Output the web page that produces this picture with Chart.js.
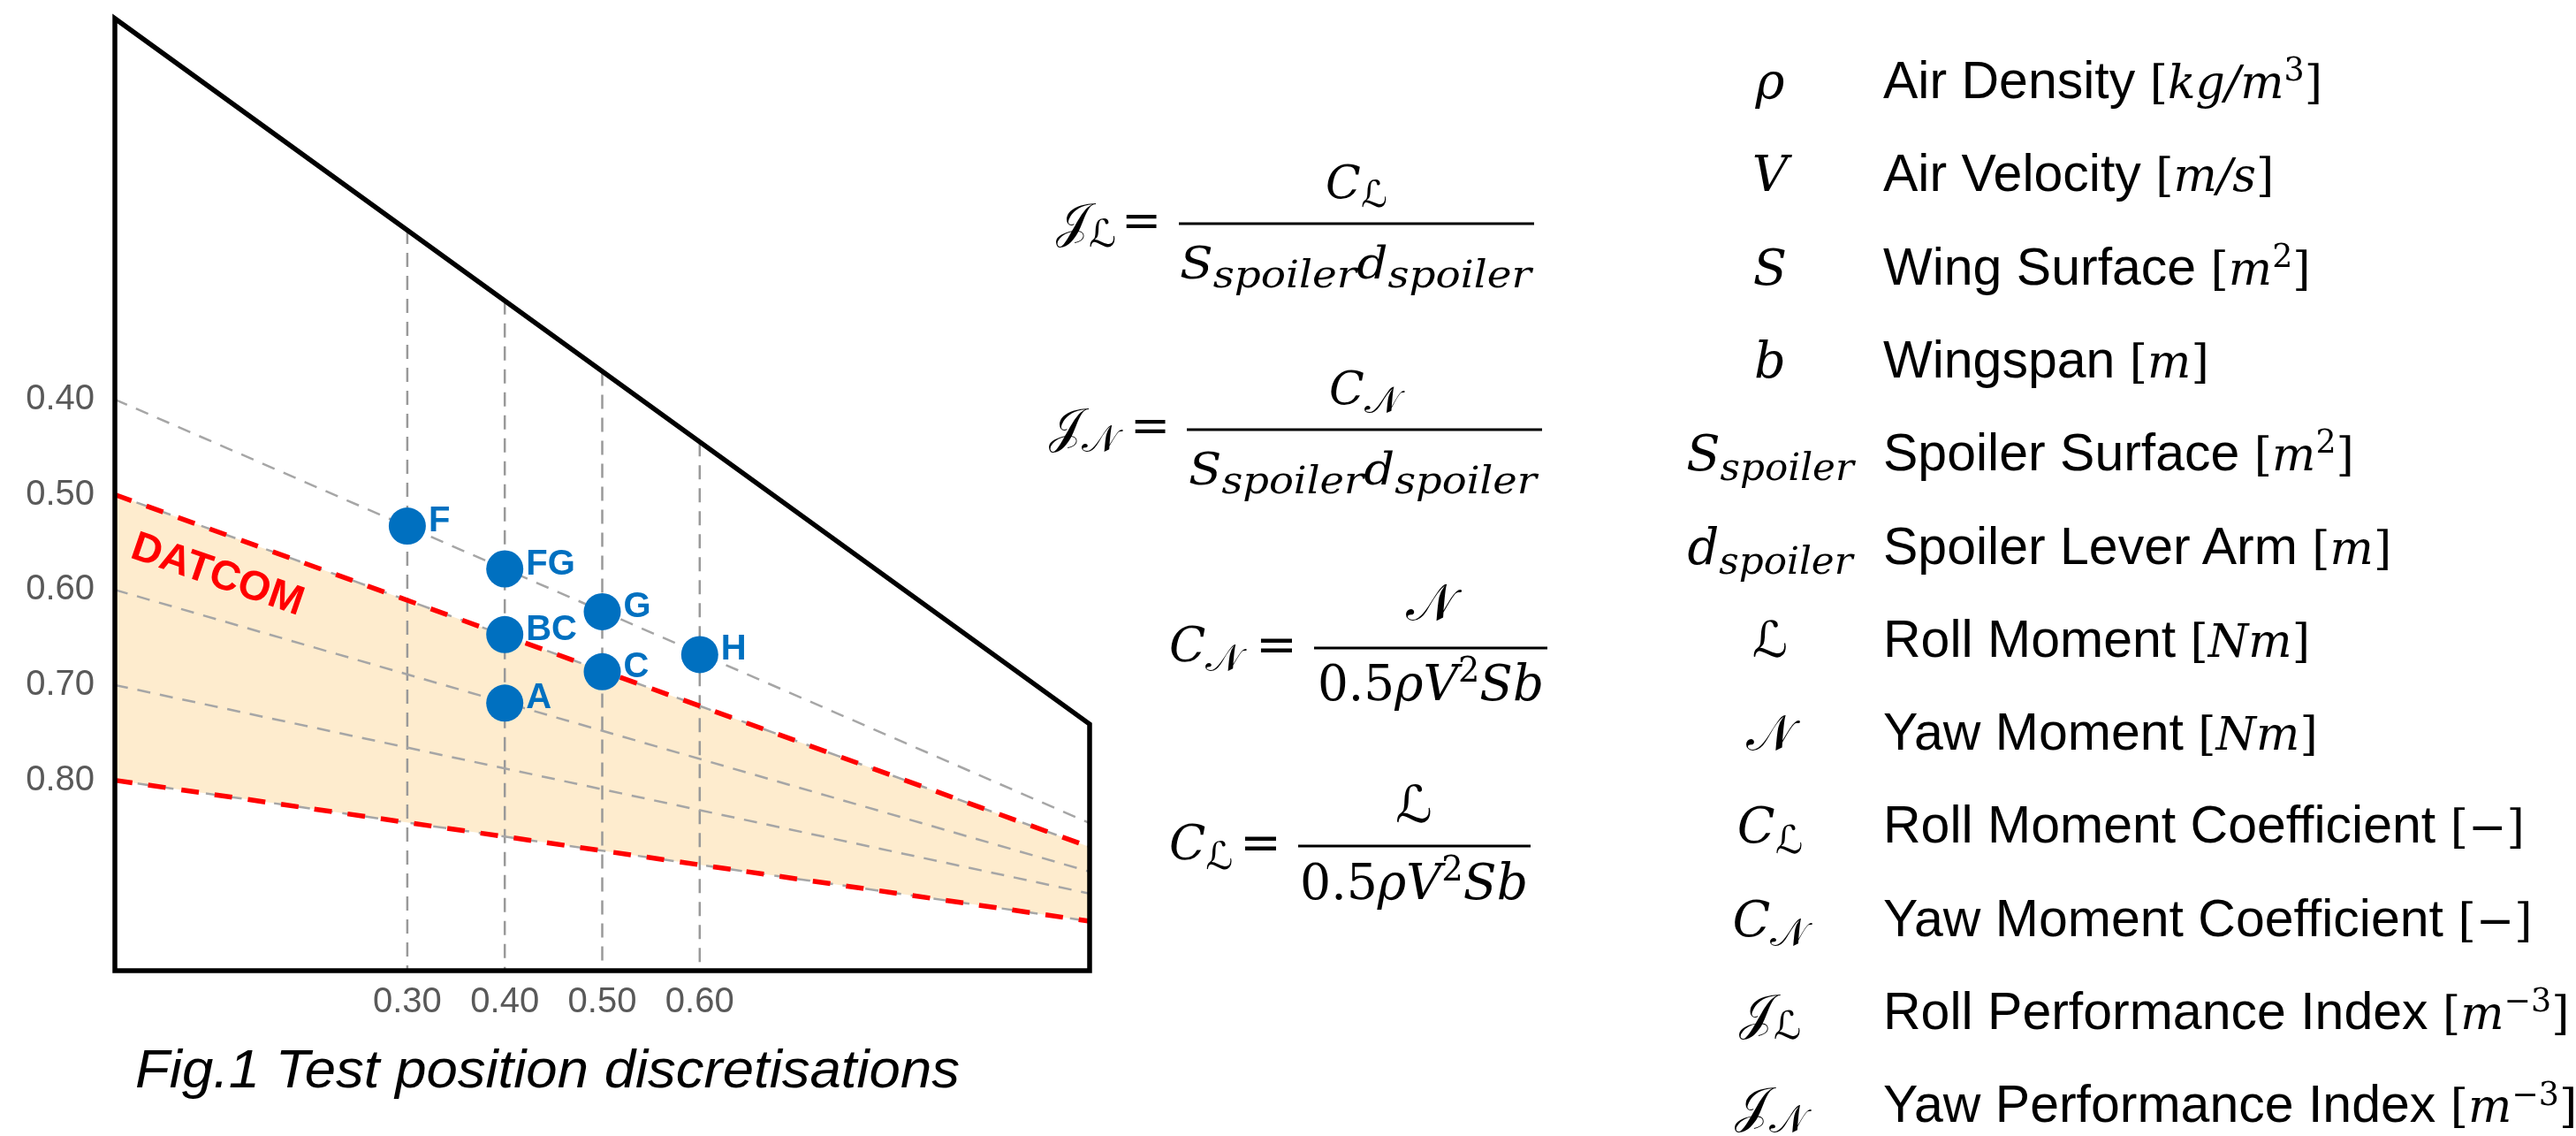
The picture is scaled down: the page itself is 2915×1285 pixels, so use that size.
<!DOCTYPE html>
<html><head><meta charset="utf-8">
<script src="https://cdn.jsdelivr.net/npm/chart.js@4.4.1/dist/chart.umd.min.js"></script>
<style>
html,body{margin:0;padding:0;background:#fff;width:2915px;height:1285px;overflow:hidden;}
#wrap{position:absolute;left:0;top:0;width:1300px;height:1180px;}
#ov{position:absolute;left:0;top:0;}
</style></head><body>
<div id="wrap"><canvas id="c" width="1300" height="1180"></canvas></div>
<svg id="ov" width="2915" height="1285" xmlns="http://www.w3.org/2000/svg"></svg>
<script>
// ---- data ----
const xTicks = [0.30, 0.40, 0.50, 0.60];
const yTicks = [0.40, 0.50, 0.60, 0.70, 0.80];
const pointNames = ['F', 'FG', 'BC', 'A', 'G', 'C', 'H'];
const pointX = [0.30, 0.40, 0.40, 0.40, 0.50, 0.50, 0.60];
const pointY = [0.533, 0.578, 0.647, 0.719, 0.623, 0.686, 0.668];
const outlineX = [0, 0, 1, 1, 0];
const outlineY = [1, 0, 0.741, 1, 1];
const chordRootY = [0.40, 0.50, 0.60, 0.70, 0.80];
const chordTipY = [0.845, 0.870, 0.896, 0.919, 0.948];
const datcomRootY = [0.50, 0.80];
const datcomTipY = [0.870, 0.948];
const stationX = [0.30, 0.40, 0.50, 0.60];
const stationTopY = [0.222, 0.296, 0.371, 0.445];
const stationBottomY = [1, 1, 1, 1];
const datcomLabel = {x: 0.105, y: 0.585, text: 'DATCOM'};

const BLUE = '#0070C0';
const datasets = [];
datasets.push({label: 'points', data: pointX.map((x, i) => ({x, y: pointY[i]})),
  showLine: false, pointRadius: 21, pointHoverRadius: 21, pointBorderWidth: 0,
  backgroundColor: BLUE, borderColor: BLUE, order: 0, clip: false});
datasets.push({label: 'outline', data: outlineX.map((x, i) => ({x, y: outlineY[i]})),
  showLine: true, pointRadius: 0, borderColor: '#000', borderWidth: 5.5,
  borderJoinStyle: 'miter', borderCapStyle: 'square', fill: false, order: 1, clip: false});
datasets.push({label: 'datcomUpper', data: [{x: 0, y: datcomRootY[0]}, {x: 1, y: datcomTipY[0]}],
  showLine: true, pointRadius: 0, borderColor: '#FF0000', borderWidth: 5.5, borderDash: [20, 18],
  fill: '+1', backgroundColor: 'rgb(254,236,206)', order: 2, clip: false});
datasets.push({label: 'datcomLower', data: [{x: 0, y: datcomRootY[1]}, {x: 1, y: datcomTipY[1]}],
  showLine: true, pointRadius: 0, borderColor: '#FF0000', borderWidth: 5.5, borderDash: [20, 18],
  fill: false, order: 2, clip: false});
chordRootY.forEach((r, i) => datasets.push({label: 'chord' + i,
  data: [{x: 0, y: r}, {x: 1, y: chordTipY[i]}], showLine: true, pointRadius: 0,
  borderColor: '#A6A6A6', borderWidth: 2.5, borderDash: [15, 11], fill: false, order: 3}));
stationX.forEach((sx, i) => datasets.push({label: 'station' + i,
  data: [{x: sx, y: stationTopY[i]}, {x: sx, y: stationBottomY[i]}], showLine: true, pointRadius: 0,
  borderColor: '#999999', borderWidth: 2.5, borderDash: [16, 10], fill: false, order: 4}));

const labelPlugin = {
  id: 'pointLabels',
  afterDatasetsDraw(chart) {
    const {ctx} = chart; const xs = chart.scales.x, ys = chart.scales.y;
    ctx.save();
    ctx.fillStyle = BLUE;
    ctx.font = 'bold 40px "Liberation Sans", Arial, sans-serif';
    ctx.textBaseline = 'middle'; ctx.textAlign = 'left';
    pointNames.forEach((n, i) => {
      ctx.fillText(n, xs.getPixelForValue(pointX[i]) + 24, ys.getPixelForValue(pointY[i]) - 5);
    });
    ctx.translate(xs.getPixelForValue(datcomLabel.x), ys.getPixelForValue(datcomLabel.y));
    ctx.rotate(19 * Math.PI / 180);
    ctx.fillStyle = '#FF0000';
    ctx.font = 'bold 47px "Liberation Sans", Arial, sans-serif';
    ctx.textAlign = 'center';
    ctx.fillText(datcomLabel.text, 0, 0);
    ctx.restore();
  }
};

const tickFont = {family: '"Liberation Sans", Arial, sans-serif', size: 40};
new Chart(document.getElementById('c'), {
  type: 'scatter',
  data: {datasets},
  options: {
    responsive: false, animation: false, devicePixelRatio: 1,
    layout: {padding: {top: 17, right: 67, left: 0, bottom: 0}},
    plugins: {legend: {display: false}, tooltip: {enabled: false}, filler: {drawTime: 'beforeDatasetsDraw'}},
    elements: {line: {tension: 0}},
    scales: {
      x: {type: 'linear', min: 0, max: 1,
        grid: {display: false, drawTicks: false}, border: {display: false},
        afterBuildTicks: s => { s.ticks = xTicks.map(v => ({value: v})); },
        afterFit: s => { s.height = 82; s.paddingLeft = 0; s.paddingRight = 0; },
        ticks: {font: tickFont, color: '#595959', padding: 12, maxRotation: 0, autoSkip: false,
          callback: v => Number(v).toFixed(2)}},
      y: {type: 'linear', min: 0, max: 1, reverse: true,
        grid: {display: false, drawTicks: false}, border: {display: false},
        afterBuildTicks: s => { s.ticks = yTicks.map(v => ({value: v})); },
        afterFit: s => { s.width = 130; s.paddingTop = 0; s.paddingBottom = 0; },
        ticks: {font: tickFont, color: '#595959', padding: 23, autoSkip: false,
          callback: v => Number(v).toFixed(2)}}
    }
  },
  plugins: [labelPlugin]
});

// ---- text annotations (formulas, symbol list, caption) ----
const NS = 'http://www.w3.org/2000/svg';
const svg = document.getElementById('ov');
const SERIF = "'DejaVu Serif', serif";
const SANS = "'Liberation Sans', Arial, sans-serif";
const SCRIPT = "'DejaVu Sans', 'DejaVu Serif', 'Noto Sans', serif";
function txt(x, y, parts, o) {
  o = o || {};
  const t = document.createElementNS(NS, 'text');
  t.setAttribute('x', x); t.setAttribute('y', y);
  t.setAttribute('fill', o.fill || '#000');
  t.setAttribute('font-size', o.size || 48);
  t.setAttribute('font-family', o.family || SERIF);
  if (o.anchor) t.setAttribute('text-anchor', o.anchor);
  if (o.len) { t.setAttribute('textLength', o.len); t.setAttribute('lengthAdjust', 'spacingAndGlyphs'); }
  let shift = 0;
  const base = o.size || 48;
  parts.forEach(p => {
    const [s, st] = p;
    const sp = document.createElementNS(NS, 'tspan');
    let target = 0, size = base, fam = o.family || SERIF, ital = false;
    if (st.includes('i')) ital = true;
    if (st.includes('script')) { fam = SCRIPT; ital = false; }
    if (st.includes('sans')) fam = SANS;
    if (st.includes('sub')) { target = base * 0.2; size = base * (o.subScale || 0.8); }
    if (st.includes('sup')) { target = -base * 0.38; size = base * 0.7; }
    sp.setAttribute('dy', target - shift); shift = target;
    sp.setAttribute('font-size', size);
    sp.setAttribute('font-family', fam);
    sp.setAttribute('font-style', ital ? 'italic' : 'normal');
    sp.textContent = s;
    t.appendChild(sp);
  });
  svg.appendChild(t);
  return t;
}
function bar(x1, x2, y) {
  const r = document.createElementNS(NS, 'rect');
  r.setAttribute('x', x1); r.setAttribute('y', y - 1.5);
  r.setAttribute('width', x2 - x1); r.setAttribute('height', 3); r.setAttribute('fill', '#000');
  svg.appendChild(r);
}
const L = 'ℒ', N = '𝒩', J = '𝒥';
// formula 1
txt(1195, 268, [[J, 'script'], [L, 'scriptsub']], {size: 54});
txt(1269, 268, [['=', '']], {size: 54});
bar(1334, 1736, 253);
txt(1535, 224, [['C', 'i'], [L, 'scriptsub']], {size: 52, anchor: 'middle'});
txt(1335, 315, [['S', 'i'], ['spoiler', 'isub'], ['d', 'i'], ['spoiler', 'isub']], {size: 50, len: 398, subScale: 0.85});
// formula 2
txt(1187, 500, [[J, 'script'], [N, 'scriptsub']], {size: 54});
txt(1279, 500, [['=', '']], {size: 54});
bar(1343, 1745, 486);
txt(1544, 457, [['C', 'i'], [N, 'scriptsub']], {size: 52, anchor: 'middle'});
txt(1345, 548, [['S', 'i'], ['spoiler', 'isub'], ['d', 'i'], ['spoiler', 'isub']], {size: 50, len: 394, subScale: 0.85});
// formula 3
txt(1323, 748, [['C', 'i'], [N, 'scriptsub']], {size: 54});
txt(1421, 748, [['=', '']], {size: 56});
bar(1487, 1751, 733);
txt(1619, 701, [[N, 'script']], {size: 58, anchor: 'middle'});
txt(1491, 792, [['0.5', ''], ['ρ', 'i'], ['V', 'i'], ['2', 'sup'], ['Sb', 'i']], {size: 56, len: 256});
// formula 4
txt(1323, 972, [['C', 'i'], [L, 'scriptsub']], {size: 54});
txt(1403, 972, [['=', '']], {size: 56});
bar(1469, 1732, 957);
txt(1600, 930, [[L, 'script']], {size: 58, anchor: 'middle'});
txt(1471, 1017, [['0.5', ''], ['ρ', 'i'], ['V', 'i'], ['2', 'sup'], ['Sb', 'i']], {size: 56, len: 258});

// symbol list
const rows = [
  {sym: [['ρ', 'i']], label: 'Air Density ', unit: [['[', ''], ['kg/m', 'i'], ['3', 'sup'], [']', '']]},
  {sym: [['V', 'i']], label: 'Air Velocity ', unit: [['[', ''], ['m/s', 'i'], [']', '']]},
  {sym: [['S', 'i']], label: 'Wing Surface ', unit: [['[', ''], ['m', 'i'], ['2', 'sup'], [']', '']]},
  {sym: [['b', 'i']], label: 'Wingspan ', unit: [['[', ''], ['m', 'i'], [']', '']]},
  {sym: [['S', 'i'], ['spoiler', 'isub']], label: 'Spoiler Surface ', unit: [['[', ''], ['m', 'i'], ['2', 'sup'], [']', '']]},
  {sym: [['d', 'i'], ['spoiler', 'isub']], label: 'Spoiler Lever Arm ', unit: [['[', ''], ['m', 'i'], [']', '']]},
  {sym: [[L, 'script']], label: 'Roll Moment ', unit: [['[', ''], ['Nm', 'i'], [']', '']]},
  {sym: [[N, 'script']], label: 'Yaw Moment ', unit: [['[', ''], ['Nm', 'i'], [']', '']]},
  {sym: [['C', 'i'], [L, 'scriptsub']], label: 'Roll Moment Coefficient ', unit: [['[−]', '']]},
  {sym: [['C', 'i'], [N, 'scriptsub']], label: 'Yaw Moment Coefficient ', unit: [['[−]', '']]},
  {sym: [[J, 'script'], [L, 'scriptsub']], label: 'Roll Performance Index ', unit: [['[', ''], ['m', 'i'], ['−3', 'sup'], [']', '']]},
  {sym: [[J, 'script'], [N, 'scriptsub']], label: 'Yaw Performance Index ', unit: [['[', ''], ['m', 'i'], ['−3', 'sup'], [']', '']]}
];
rows.forEach((r, i) => {
  const yb = 111 + i * 105.3;
  txt(2003, yb, r.sym, {size: 56, anchor: 'middle', subScale: 0.78});
  const t = txt(2131, yb, [[r.label, 'sans']].concat(r.unit), {size: 52});
  t.firstChild.setAttribute('font-size', 59);
});

// caption
txt(153, 1230, [['Fig.1 Test position discretisations', 'sans']], {size: 61, len: 933}).firstChild.setAttribute('font-style', 'italic');
</script>
</body></html>
